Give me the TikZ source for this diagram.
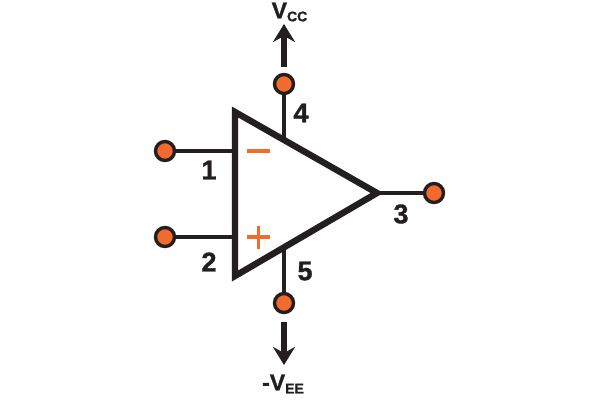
\documentclass[tikz,border=0pt]{standalone}
\usepackage{fontspec}
\setmainfont[BoldFeatures={FakeBold=1.2}]{Liberation Sans}
\usetikzlibrary{arrows.meta}
\definecolor{ink}{HTML}{231F20}
\definecolor{pin}{HTML}{F26B2D}
\tikzset{
  terminal/.style={circle,draw=ink,fill=pin,line width=3.4pt,minimum size=19pt,inner sep=0pt},
  lead/.style={draw=ink,line width=3.2pt},
  body/.style={draw=ink,line width=6.4pt,miter limit=10},
  sign/.style={draw=pin,line width=3.4pt},
  supply/.style={draw=ink,line width=5.6pt,-{Stealth[length=18pt,width=22pt,inset=6pt]}},
  label/.style={font=\bfseries\fontsize{27}{27}\selectfont,text=ink,inner sep=0pt},
  rail/.style={font=\bfseries\fontsize{23}{23}\selectfont,text=ink,inner sep=0pt},
}
\newcommand{\subt}[1]{{\fontsize{14}{14}\selectfont\raisebox{-3pt}{#1}}}
\begin{document}
\begin{tikzpicture}[x=1pt,y=-1pt]
\useasboundingbox (0,0) rectangle (600,400);
\fill[white] (0,0) rectangle (600,400);
\coordinate (tl) at (235,112);
\coordinate (bl) at (235,276);
\coordinate (tip) at (377,193);
\coordinate (in1) at (235,151);
\coordinate (in2) at (235,237);
\coordinate (top) at (284,140);
\coordinate (bot) at (284,248);
\node[terminal] (t1) at (165,151) {};
\node[terminal] (t2) at (165,237) {};
\node[terminal] (t3) at (434,193) {};
\node[terminal] (t4) at (284,84) {};
\node[terminal] (t5) at (284,303) {};
\draw[lead] (t1) -- (in1);
\draw[lead] (t2) -- (in2);
\draw[lead] (t3) -- (tip);
\draw[lead] (t4) -- (top);
\draw[lead] (t5) -- (bot);
\draw[body] (tl) -- (tip) -- (bl) -- cycle;
\draw[sign] (247,151) -- (270,151);
\draw[sign] (247,237) -- (270,237);
\draw[sign] (258.5,226) -- (258.5,249);
\coordinate (vccS) at (284,67);
\coordinate (vccT) at (284,24);
\coordinate (veeS) at (284,322);
\coordinate (veeT) at (284,365);
\draw[supply] (vccS) -- (vccT);
\draw[supply] (veeS) -- (veeT);
\node[label] (n1) at (209,170) {1};
\node[label] (n2) at (209,262) {2};
\node[label] (n3) at (401,214) {3};
\node[label] (n4) at (301,113) {4};
\node[label] (n5) at (305,271) {5};
\node[rail] (vcc) at (289.5,12) {V\subt{CC}};
\node[rail] (vee) at (283,384) {-V\subt{EE}};
\end{tikzpicture}
\end{document}
